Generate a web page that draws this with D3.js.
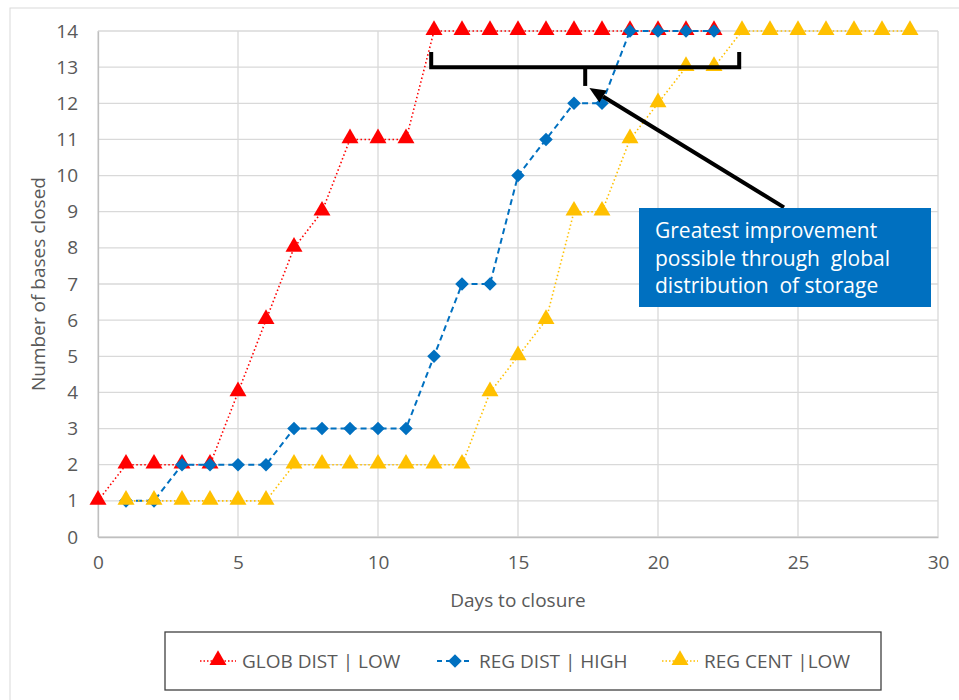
<!DOCTYPE html>
<html>
<head>
<meta charset="utf-8">
<script src="https://cdn.jsdelivr.net/npm/d3@7"></script>
<style>
body{margin:0;background:#fff}
svg{font-family:"Open Sans","Noto Sans",sans-serif}
</style>
</head>
<body>
<svg id="chart" width="959" height="700"></svg>
<script>
// days on x, bases closed on y
var globDays = [0,1,2,3,4,5,6,7,8,9,10,11,12,13,14,15,16,17,18,19,20,21,22]
var globVals = [1,2,2,2,2,4,6,8,9,11,11,11,14,14,14,14,14,14,14,14,14,14,14]
var regDistDays = [1,2,3,4,5,6,7,8,9,10,11,12,13,14,15,16,17,18,19,20,21,22]
var regDistVals = [1,1,2,2,2,2,3,3,3,3,3,5,7,7,10,11,12,12,14,14,14,14]
var regCentDays = [1,2,3,4,5,6,7,8,9,10,11,12,13,14,15,16,17,18,19,20,21,22,23,24,25,26,27,28,29]
var regCentVals = [1,1,1,1,1,1,2,2,2,2,2,2,2,4,5,6,9,9,11,12,13,13,14,14,14,14,14,14,14]
var seriesNames = ["GLOB DIST | LOW","REG DIST | HIGH","REG CENT |LOW"]
var xTicks = [0,5,10,15,20,25,30]
var yTicks = d3.range(0,15)
var noteLines = ["Greatest improvement","possible through  global","distribution  of storage"]

var svg = d3.select("#chart")
var x = d3.scaleLinear().domain([0,30]).range([98,938])
var y = d3.scaleLinear().domain([0,14]).range([537,31])

// outer chart frame
svg.append("rect")
   .attr("x",10).attr("y",8).attr("width",980).attr("height",720)
   .attr("fill","none").attr("stroke","#d9d9d9")

// gridlines
svg.append("g").selectAll("line").data(yTicks).enter().append("line")
   .attr("x1",x(0)).attr("x2",x(30))
   .attr("y1",d=>y(d)).attr("y2",d=>y(d))
   .attr("stroke","#d9d9d9").attr("stroke-width",1.3)
svg.append("g").selectAll("line").data(xTicks).enter().append("line")
   .attr("x1",d=>x(d)).attr("x2",d=>x(d))
   .attr("y1",y(0)).attr("y2",y(14))
   .attr("stroke","#d9d9d9").attr("stroke-width",1.3)

// axes
var xAxis = svg.append("g")
   .attr("transform",`translate(0,${y(0)})`)
   .call(d3.axisBottom(x).tickValues(xTicks).tickSize(0).tickPadding(19))
var yAxis = svg.append("g")
   .attr("transform",`translate(${x(0)},0)`)
   .call(d3.axisLeft(y).tickValues(yTicks).tickSize(0).tickPadding(20))
;[xAxis,yAxis].forEach(a=>{
  a.select(".domain").attr("stroke","#bfbfbf").attr("stroke-width",1.3)
  a.selectAll("text").attr("fill","#595959").attr("font-size","19px")
   .attr("font-family","'Open Sans',sans-serif")
})

svg.append("text")
   .attr("x",518).attr("y",607)
   .attr("text-anchor","middle")
   .attr("font-size","19px").attr("fill","#595959")
   .text("Days to closure")
svg.append("text")
   .attr("transform","translate(45,284) rotate(-90)")
   .attr("text-anchor","middle")
   .attr("font-size","19px").attr("fill","#595959")
   .text("Number of bases closed")

var triangle = d3.symbol().type(d3.symbolTriangle).size(125)
var diamond = d3.symbol().type(d3.symbolSquare).size(92)

var series = [
  {days:globDays, vals:globVals, color:"#ff0000", dash:"1.5,2.5", width:1.6, shape:"tri"},
  {days:regDistDays, vals:regDistVals, color:"#0070c0", dash:"6,4", width:2, shape:"dia"},
  {days:regCentDays, vals:regCentVals, color:"#ffc000", dash:"1.5,2.5", width:1.6, shape:"tri"}
]

var line = d3.line().x(d=>x(d[0])).y(d=>y(d[1]))

function marker(g,s){
  if(s.shape==="tri"){
    g.append("path").attr("d",triangle).attr("fill",s.color)
  }else{
    g.append("path").attr("d",diamond).attr("fill",s.color).attr("transform","rotate(45)")
  }
}

series.forEach(s=>{
  var pts = d3.zip(s.days,s.vals)
  svg.append("path")
     .attr("d",line(pts))
     .attr("fill","none")
     .attr("stroke",s.color)
     .attr("stroke-width",s.width)
     .attr("stroke-dasharray",s.dash)
  svg.append("g").selectAll("g").data(pts).enter().append("g")
     .attr("transform",d=>`translate(${x(d[0])},${y(d[1])+(s.shape==="tri"?-1:0)})`)
     .each(function(){ marker(d3.select(this),s) })
})

// bracket + arrow annotation
var br = svg.append("g").attr("stroke","#000").attr("stroke-width",4).attr("fill","none")
br.append("path")
  .attr("d",`M${x(11.9)},${y(13.42)}V${y(13)}H${x(22.9)}V${y(13.42)}`)
br.append("path")
  .attr("d",`M${x(17.4)},${y(13)}V${y(12.48)}`)

var tail = [x(24.5),y(9.12)], head = [x(17.55),y(12.42)]
var ang = Math.atan2(head[1]-tail[1],head[0]-tail[0])
var hl = 16, hw = 7
var base = [head[0]-hl*Math.cos(ang),head[1]-hl*Math.sin(ang)]
svg.append("line")
   .attr("x1",tail[0]).attr("y1",tail[1])
   .attr("x2",base[0]).attr("y2",base[1])
   .attr("stroke","#000").attr("stroke-width",4)
svg.append("path")
   .attr("d",`M${head[0]},${head[1]}L${base[0]-hw*Math.sin(ang)},${base[1]+hw*Math.cos(ang)}L${base[0]+hw*Math.sin(ang)},${base[1]-hw*Math.cos(ang)}Z`)
   .attr("fill","#000")

// note box
svg.append("rect")
   .attr("x",639).attr("y",208).attr("width",292).attr("height",99)
   .attr("fill","#0070c0")
svg.append("g").selectAll("text").data(noteLines).enter().append("text")
   .attr("x",655).attr("y",(d,i)=>238+i*27.5)
   .attr("fill","#fff").attr("font-size","21px")
   .style("white-space","pre")
   .text(d=>d)

// legend
var leg = svg.append("g")
leg.append("rect")
   .attr("x",165).attr("y",632).attr("width",716).attr("height",58)
   .attr("fill","#fff").attr("stroke","#404040").attr("stroke-width",1.3)
var legX = [200,437,662]
series.forEach((s,i)=>{
  var g = leg.append("g").attr("transform",`translate(${legX[i]},661)`)
  g.append("line").attr("x1",0).attr("x2",36)
   .attr("stroke",s.color).attr("stroke-width",s.width).attr("stroke-dasharray",s.shape==="dia"?"5,4":"1.5,2")
  var m = g.append("g").attr("transform",`translate(18,${s.shape==="tri"?-1:0})`)
  marker(m,s)
  g.append("text").attr("x",42).attr("y",7)
   .attr("font-size","19px").attr("fill","#595959")
   .style("white-space","pre")
   .text(seriesNames[i])
})
</script>
</body>
</html>
